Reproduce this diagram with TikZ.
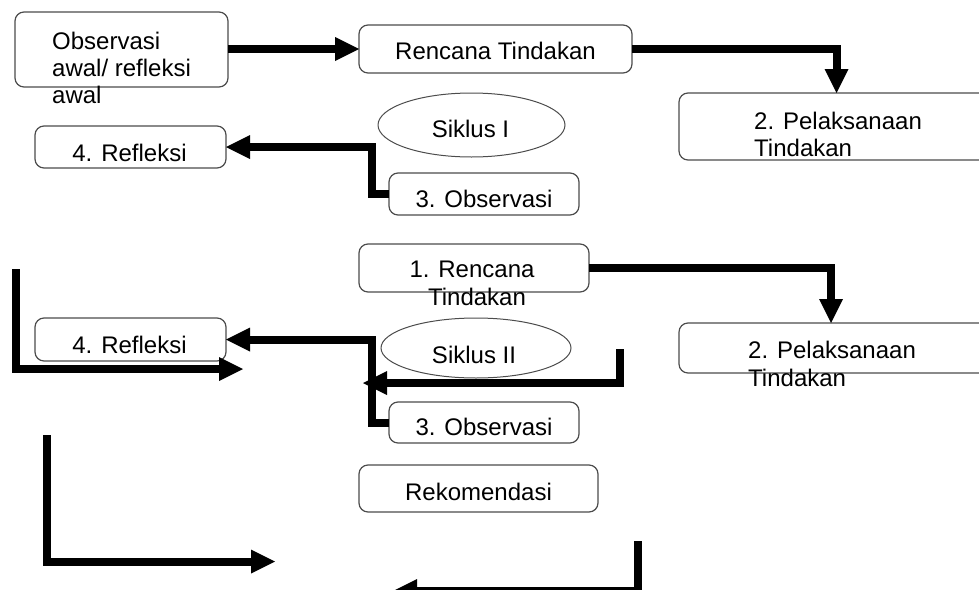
\documentclass[tikz,border=0pt]{standalone}
\usepackage{fontspec}
\setmainfont{Liberation Sans}
\usetikzlibrary{arrows.meta,shapes.geometric}
\tikzset{
  box/.style={draw=black!70, line width=1.2pt, rounded corners=9pt, rectangle, inner sep=0pt, outer sep=0pt},
  oval/.style={draw=black!70, line width=1pt, ellipse, inner sep=0pt, outer sep=0pt},
  txt/.style={font=\fontsize{24}{27.6}\selectfont, inner sep=0pt, text=black},
  flow/.style={line width=8pt, -{Triangle[length=24pt,width=24pt,line width=0pt]}},
}
\begin{document}
\begin{tikzpicture}[x=1pt,y=-1pt]
\useasboundingbox (0,0) rectangle (979,589);
% boxes
\node[box, minimum width=213pt, minimum height=75pt] (obs) at (121.5,49.5) {};
\node[box, minimum width=273pt, minimum height=48pt] (ren1) at (495.5,49) {};
\node[box, minimum width=315pt, minimum height=67pt] (pel1) at (836.5,126.5) {};
\node[box, minimum width=191pt, minimum height=42pt] (refl1) at (130.5,147) {};
\node[oval, minimum width=187pt, minimum height=64pt] (sik1) at (471.5,125) {};
\node[box, minimum width=190pt, minimum height=42pt] (obsA) at (484,194) {};
\node[box, minimum width=230pt, minimum height=48pt] (ren2) at (474,268) {};
\node[box, minimum width=315pt, minimum height=50pt] (pel2) at (836.5,348) {};
\node[box, minimum width=191pt, minimum height=43pt] (refl2) at (130.5,339.5) {};
\node[oval, minimum width=190pt, minimum height=60pt] (sik2) at (476,348) {};
\node[box, minimum width=190pt, minimum height=41pt] (obsB) at (484,422.5) {};
\node[box, minimum width=239pt, minimum height=47pt] (rek) at (478.5,488.5) {};
% texts
\node[txt, anchor=base west] (obsT1) at (52,49) {Observasi};
\node[txt, anchor=base west] (obsT2) at (52,76) {awal/ refleksi};
\node[txt, anchor=base west] (obsT3) at (52,103) {awal};
\node[txt, anchor=base] (ren1T) at (495.5,59) {Rencana Tindakan};
\node[txt, anchor=base west] (pel1T1) at (754,129) {2. Pelaksanaan};
\node[txt, anchor=base west] (pel1T2) at (754,156) {Tindakan};
\node[txt, anchor=base] (refl1T) at (129.5,161) {4. Refleksi};
\node[txt, anchor=base] (sik1T) at (470.5,137) {Siklus I};
\node[txt, anchor=base] (obsAT) at (484,207) {3. Observasi};
\node[txt, anchor=base] (ren2T1) at (472,277) {1. Rencana};
\node[txt, anchor=base] (ren2T2) at (477,305) {Tindakan};
\node[txt, anchor=base west] (pel2T1) at (748,358) {2. Pelaksanaan};
\node[txt, anchor=base west] (pel2T2) at (748,386) {Tindakan};
\node[txt, anchor=base] (refl2T) at (129.5,353) {4. Refleksi};
\node[txt, anchor=base] (sik2T) at (474,363) {Siklus II};
\node[txt, anchor=base] (obsBT) at (484,435) {3. Observasi};
\node[txt, anchor=base] (rekT) at (478.5,500) {Rekomendasi};
% connectors
\draw[flow] (obs.east |- ren1.west) -- (ren1.west);
\draw[flow] (ren1.east) -| (pel1.north);
\draw[flow] (obsA.west) -- ++(-17,0) |- (refl1.east);
\draw[flow] (ren2.east) -| ([xshift=-5.5pt]pel2.north);
\draw[flow] (obsB.west) -- ++(-17,0) |- (refl2.east);
% free arrows
\coordinate (fa) at (620,349); \coordinate (fae) at (363,383);
\coordinate (fb) at (15.5,269); \coordinate (fbe) at (243,369);
\coordinate (fc) at (47,435); \coordinate (fce) at (275,561.5);
\coordinate (fd) at (638,541); \coordinate (fde) at (393,591);
\draw[flow] (fa) |- (fae);
\draw[flow] (fb) |- (fbe);
\draw[flow] (fc) |- (fce);
\draw[flow] (fd) |- (fde);
\end{tikzpicture}
\end{document}
